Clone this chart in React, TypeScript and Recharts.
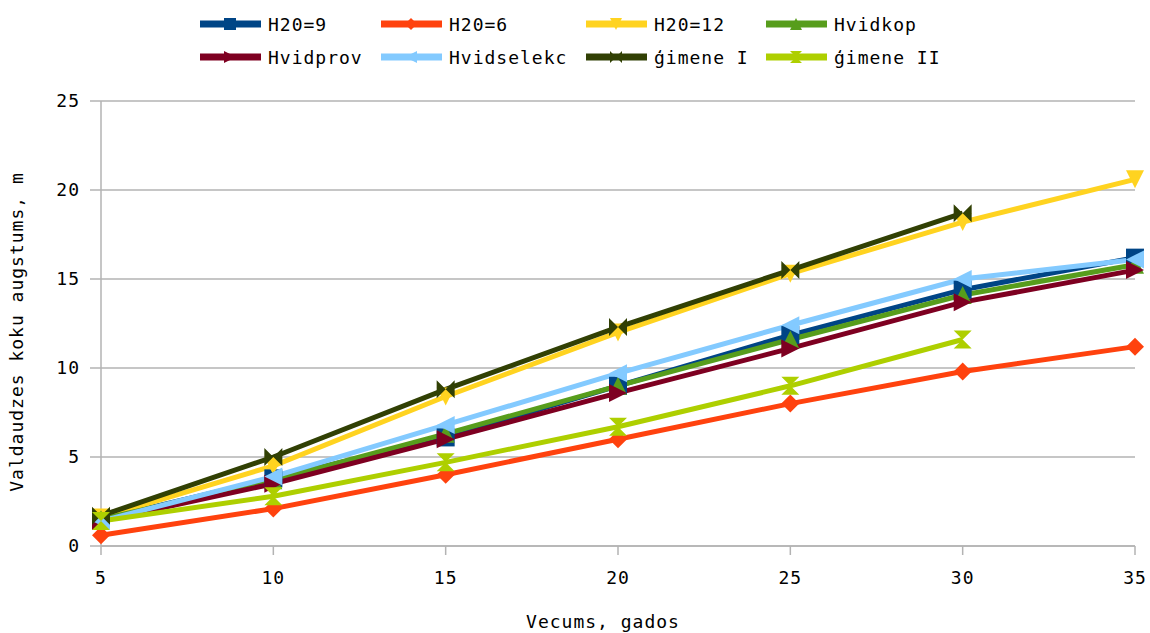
import React from "react";
import {
  LineChart,
  Line,
  XAxis,
  YAxis,
  CartesianGrid,
} from "recharts";

const ages = [5, 10, 15, 20, 25, 30, 35];
const h20_9 = [1.5, 3.8, 6.1, 9.0, 11.85, 14.4, 16.2];
const h20_6 = [0.6, 2.1, 4.0, 6.0, 8.0, 9.8, 11.2];
const h20_12 = [1.6, 4.5, 8.4, 12.0, 15.3, 18.2, 20.6];
const hvidkop = [1.5, 3.7, 6.3, 9.0, 11.6, 14.1, 15.8];
const hvidprov = [1.4, 3.5, 6.0, 8.6, 11.1, 13.7, 15.5];
const hvidselekc = [1.4, 3.9, 6.8, 9.7, 12.4, 15.0, 16.1];
const gimene1 = [1.7, 5.0, 8.8, 12.3, 15.5, 18.7, null];
const gimene2 = [1.4, 2.8, 4.7, 6.7, 9.0, 11.6, null];
const yTicks = [0, 5, 10, 15, 20, 25];

const FONT = "'DejaVu Sans Mono', monospace";
const textStyle = { fill: "#000", fontFamily: FONT, fontSize: 18, letterSpacing: 1 };

type Shape = "square" | "diamond" | "down" | "up" | "right" | "left" | "bowtie" | "hourglass";

const series: { key: string; name: string; color: string; shape: Shape; values: (number | null)[] }[] = [
  { key: "h9", name: "H20=9", color: "#004586", shape: "square", values: h20_9 },
  { key: "h6", name: "H20=6", color: "#ff420e", shape: "diamond", values: h20_6 },
  { key: "h12", name: "H20=12", color: "#ffd320", shape: "down", values: h20_12 },
  { key: "kop", name: "Hvidkop", color: "#579d1c", shape: "up", values: hvidkop },
  { key: "prov", name: "Hvidprov", color: "#7e0021", shape: "right", values: hvidprov },
  { key: "sel", name: "Hvidselekc", color: "#83caff", shape: "left", values: hvidselekc },
  { key: "g1", name: "ģimene I", color: "#314004", shape: "bowtie", values: gimene1 },
  { key: "g2", name: "ģimene II", color: "#aecf00", shape: "hourglass", values: gimene2 },
];

const data = ages.map((age, i) => {
  const row: Record<string, number | null> = { age };
  series.forEach((s) => {
    row[s.key] = s.values[i];
  });
  return row;
});

function markerPath(shape: Shape, cx: number, cy: number, r: number): string {
  switch (shape) {
    case "square":
      return `M${cx - r},${cy - r}H${cx + r}V${cy + r}H${cx - r}Z`;
    case "diamond":
      return `M${cx},${cy - r}L${cx + r},${cy}L${cx},${cy + r}L${cx - r},${cy}Z`;
    case "down":
      return `M${cx - r},${cy - r}L${cx + r},${cy - r}L${cx},${cy + r}Z`;
    case "up":
      return `M${cx - r},${cy + r}L${cx + r},${cy + r}L${cx},${cy - r}Z`;
    case "right":
      return `M${cx - r},${cy - r}L${cx + r},${cy}L${cx - r},${cy + r}Z`;
    case "left":
      return `M${cx + r},${cy - r}L${cx - r},${cy}L${cx + r},${cy + r}Z`;
    case "bowtie":
      return `M${cx - r},${cy - r}L${cx},${cy}L${cx - r},${cy + r}Z M${cx + r},${cy - r}L${cx},${cy}L${cx + r},${cy + r}Z`;
    case "hourglass":
      return `M${cx - r},${cy - r}L${cx + r},${cy - r}L${cx},${cy}Z M${cx - r},${cy + r}L${cx + r},${cy + r}L${cx},${cy}Z`;
  }
}

const makeDot = (shape: Shape, color: string) => (props: any) => {
  const { cx, cy, index } = props;
  if (cx == null || cy == null || props.value == null) return <g key={index} />;
  return <path key={index} d={markerPath(shape, cx, cy, 9)} fill={color} />;
};

// legend sits above the plot in two rows of four
const legendCols = [200, 381, 586, 766];
const legendRows = [24, 57];

const LegendBox = () => (
  <svg
    width={1150}
    height={80}
    style={{ position: "absolute", left: 0, top: 0 }}
  >
    {series.map((s, i) => {
      const x = legendCols[i % 4];
      const y = legendRows[Math.floor(i / 4)];
      return (
        <g key={s.key}>
          <line x1={x} y1={y} x2={x + 61} y2={y} stroke={s.color} strokeWidth={7} />
          <path d={markerPath(s.shape, x + 30, y, 6)} fill={s.color} />
          <text x={x + 68} y={y + 7} style={textStyle}>
            {s.name}
          </text>
        </g>
      );
    })}
  </svg>
);

export default function App() {
  return (
    <div style={{ position: "absolute", left: 0, top: 0, width: 1150, height: 633, background: "#fff" }}>
      <LineChart
        width={1150}
        height={633}
        data={data}
        margin={{ top: 101, right: 15, left: 0, bottom: 0 }}
      >
        <CartesianGrid vertical={false} stroke="#b3b3b3" strokeWidth={1.5} />
        <XAxis
          dataKey="age"
          type="number"
          domain={[5, 35]}
          ticks={ages}
          height={87}
          stroke="#b3b3b3"
          strokeWidth={1.5}
          tickSize={9}
          tickMargin={16}
          tick={textStyle}
          label={() => (
            <text x={603} y={628} textAnchor="middle" style={textStyle}>
              Vecums, gados
            </text>
          )}
        />
        <YAxis
          domain={[0, 25]}
          ticks={yTicks}
          width={101}
          stroke="#b3b3b3"
          strokeWidth={1.5}
          tickSize={11}
          tickMargin={10}
          tick={textStyle}
          label={() => (
            <text transform="translate(23,332) rotate(-90)" textAnchor="middle" style={textStyle}>
              Valdaudzes koku augstums, m
            </text>
          )}
        />
        {series.map((s) => (
          <Line
            key={s.key}
            dataKey={s.key}
            name={s.name}
            stroke={s.color}
            strokeWidth={5}
            dot={makeDot(s.shape, s.color)}
            activeDot={false}
            isAnimationActive={false}
            connectNulls={false}
          />
        ))}
      </LineChart>
      <LegendBox />
    </div>
  );
}
